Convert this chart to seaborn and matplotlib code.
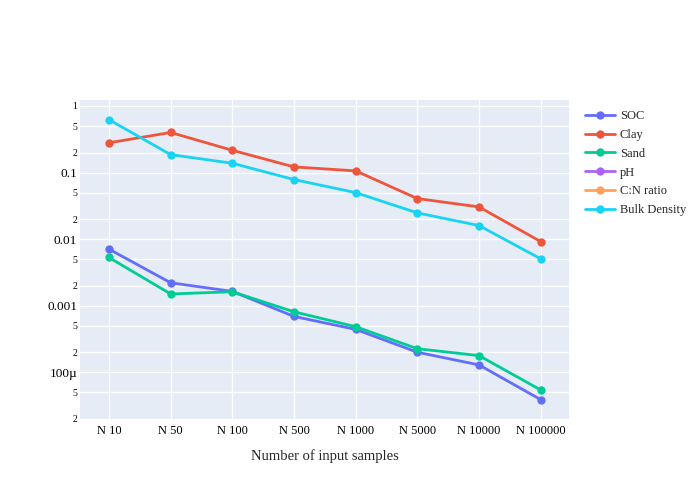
import matplotlib
matplotlib.use('Agg')
import matplotlib.pyplot as plt
import pandas as pd
import seaborn as sns
from matplotlib.lines import Line2D

# data (log scale)
samples = ['N 10', 'N 50', 'N 100', 'N 500', 'N 1000', 'N 5000', 'N 10000', 'N 100000']
soc = [0.00708, 0.00221, 0.00164, 0.00069, 0.000441, 0.000200, 0.000129, 0.0000389]
clay = [0.28, 0.40, 0.216, 0.1216, 0.106, 0.0407, 0.0305, 0.0092]
sand = [0.0053, 0.0015, 0.00162, 0.00081, 0.000484, 0.000226, 0.000178, 0.0000543]
bulk = [0.623, 0.186, 0.138, 0.0785, 0.050, 0.0248, 0.016, 0.00507]
# pH and C:N ratio only appear in the legend
names = ['SOC', 'Clay', 'Sand', 'pH', 'C:N ratio', 'Bulk Density']
colors = ['#636EFA', '#EF553B', '#00CC96', '#AB63FA', '#FFA15A', '#19D3F3']

ytick_vals = [1, 0.5, 0.2, 0.1, 0.05, 0.02, 0.01, 0.005, 0.002, 0.001,
              0.0005, 0.0002, 0.0001, 0.00005, 0.00002]
ytick_labels = ['1', '5', '2', '0.1', '5', '2', '0.01', '5', '2', '0.001',
                '5', '2', '100µ', '5', '2']

series = {'SOC': soc, 'Clay': clay, 'Sand': sand, 'Bulk Density': bulk}
rows = []
for name, vals in series.items():
    for s, v in zip(samples, vals):
        rows.append({'samples': s, 'value': v, 'variable': name})
df = pd.DataFrame(rows)
df['x'] = df['samples'].map({s: i for i, s in enumerate(samples)})

sns.set_style('darkgrid', {'axes.facecolor': '#E5ECF6', 'grid.color': 'white'})
plt.rcParams['font.family'] = ['Liberation Serif', 'DejaVu Serif']

fig = plt.figure(figsize=(7, 5), dpi=100)
ax = fig.add_axes([80 / 700, 81 / 500, 489 / 700, 319 / 500])
pal = dict(zip(names, colors))
sns.lineplot(data=df, x='x', y='value', hue='variable', palette=pal,
             hue_order=[n for n in names if n in series], sort=False,
             marker='o', markersize=6, markeredgewidth=0, linewidth=2,
             legend=False, ax=ax)

ax.set_yscale('log')
ax.set_ylim(10 ** -4.702, 10 ** 0.09)
ax.set_xlim(-0.47, 7.46)
ax.set_xticks(range(len(samples)))
ax.set_xticklabels(samples, fontsize=9)
ax.yaxis.set_major_locator(matplotlib.ticker.FixedLocator(ytick_vals))
ax.yaxis.set_minor_locator(matplotlib.ticker.NullLocator())
ax.set_yticklabels(ytick_labels)
for lab, t in zip(ax.get_yticklabels(), ytick_labels):
    lab.set_fontsize(9.5 if len(t) > 1 else 7)
ax.tick_params(axis='both', length=0, pad=4, colors='black')
ax.tick_params(axis='y', pad=2)
ax.grid(True, color='white', linewidth=1)
for sp in ax.spines.values():
    sp.set_visible(False)
ax.set_xlabel('Number of input samples', fontsize=10.5, labelpad=9)
ax.set_ylabel('')

handles = [Line2D([0], [0], color=c, marker='o', markersize=6, markeredgewidth=0, linewidth=2)
           for c in colors]
fig.legend(handles, names, loc='upper left', bbox_to_anchor=(580 / 700, 1 - 105 / 500),
           frameon=False, fontsize=9, handlelength=2.4, labelspacing=0.55,
           borderaxespad=0, handletextpad=0.4)

fig.savefig('out.png', dpi=100)
